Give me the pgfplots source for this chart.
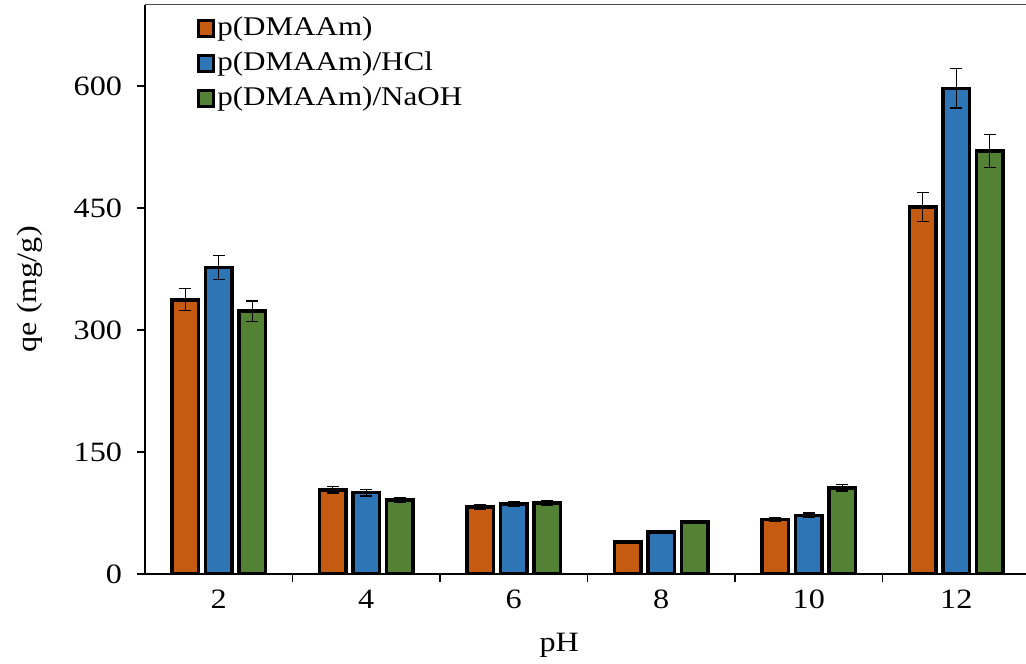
\documentclass[border=0pt]{standalone}
\usepackage{fontspec}
\setmainfont{Liberation Serif}[FakeStretch=1.15]
\usepackage{pgfplots}
\pgfplotsset{compat=1.18}
\definecolor{cO}{HTML}{C55A11}
\definecolor{cB}{HTML}{2E75B6}
\definecolor{cG}{HTML}{548235}
\pgfplotstableread{
x y e
0 337 13.5
1 103.5 4
2 82 3
3 39 1.5
4 67 2
5 451 18
}\dataO
\pgfplotstableread{
x y e
0 377 15
1 100 4
2 86 3
3 52 1.5
4 72 3
5 597 24
}\dataB
\pgfplotstableread{
x y e
0 323 12.5
1 91 3
2 87 3
3 64 2
4 106 4
5 520 20.5
}\dataG
\begin{document}
\begin{tikzpicture}
\useasboundingbox (0,0) rectangle (513bp,332bp);
\clip (0,0) rectangle (513bp,332bp);
\begin{axis}[
  at={(72.5bp,45bp)}, anchor=south west,
  scale only axis, width=442.5bp, height=284.7bp,
  xmin=-0.5, xmax=5.5, ymin=0, ymax=700,
  axis x line=bottom, axis y line=left,
  axis line style={line width=1bp, -},
  ybar=3.35bp, bar width=13.4bp,
  xtick={0.5,1.5,2.5,3.5,4.5}, xticklabels={,,,,},
  extra x ticks={0,1,2,3,4,5},
  extra x tick labels={2,4,6,8,10,12},
  extra x tick style={tick style={draw=none}},
  ytick={0,150,300,450,600},
  tick align=outside, major tick length=4bp,
  tick style={line width=0.8bp, black},
  /pgf/number format/assume math mode=true,
  tick label style={font=\fontsize{14bp}{16bp}\selectfont},
  xticklabel style={yshift=-0.5bp},
  yticklabel style={xshift=-4bp},
  xlabel={pH}, ylabel={qe (mg/g)},
  label style={font=\fontsize{14bp}{16bp}\selectfont},
  xlabel style={at={(axis description cs:0.468,-0.125)}, anchor=center},
  ylabel style={at={(axis description cs:-0.13,0.5)}, anchor=center},
  legend style={at={(axis description cs:0.058,0.985)}, anchor=north west,
    draw=none, fill=none, inner sep=0pt, row sep=2bp,
    font=\fontsize{13.5bp}{15bp}\selectfont,
    nodes={inner sep=1bp, text height=10bp, text depth=3.5bp}},
  legend cell align=left,
  legend image code/.code={\draw[#1,/tikz/.cd,line width=1.8bp,draw=black] (0bp,-3.8bp) rectangle (7.5bp,4.2bp);},
]
\addplot[fill=cO, draw=black, line width=1.8bp,
  error bars/y dir=both, error bars/y explicit,
  error bars/error bar style={line width=0.6bp, black},
  error bars/error mark options={rotate=90, mark size=3bp, line width=0.6bp, black}]
  table[x=x, y=y, y error=e] {\dataO};
\addplot[fill=cB, draw=black, line width=1.8bp,
  error bars/y dir=both, error bars/y explicit,
  error bars/error bar style={line width=0.6bp, black},
  error bars/error mark options={rotate=90, mark size=3bp, line width=0.6bp, black}]
  table[x=x, y=y, y error=e] {\dataB};
\addplot[fill=cG, draw=black, line width=1.8bp,
  error bars/y dir=both, error bars/y explicit,
  error bars/error bar style={line width=0.6bp, black},
  error bars/error mark options={rotate=90, mark size=3bp, line width=0.6bp, black}]
  table[x=x, y=y, y error=e] {\dataG};
\legend{p(DMAAm), p(DMAAm)/HCl, p(DMAAm)/NaOH}
\draw[black!70, line width=0.7bp] (axis description cs:0,1) -- (axis description cs:1,1);
\end{axis}
\end{tikzpicture}
\end{document}
